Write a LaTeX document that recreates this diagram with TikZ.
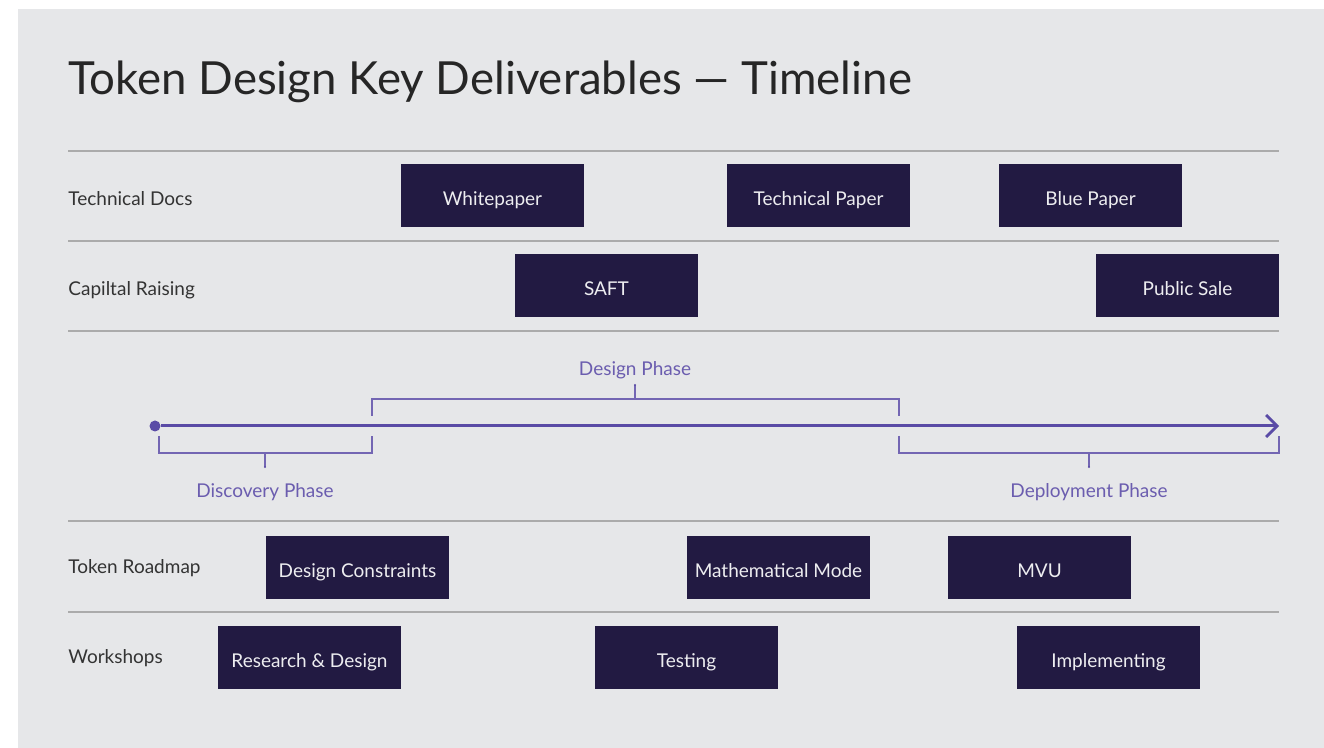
\documentclass[tikz,border=0pt]{standalone}
\usepackage{fontspec}
\setmainfont{Lato}
\usetikzlibrary{arrows.meta, positioning}
\definecolor{paper}{HTML}{E6E7E9}
\definecolor{ink}{HTML}{221A42}
\definecolor{phase}{HTML}{5A4BA6}
\definecolor{rule}{HTML}{ABABAB}
\tikzstyle{deliverable} = [fill=ink, text=white!92!ink, minimum width=91.5pt, minimum height=31.5pt, inner sep=0pt, text height=10pt, text depth=0pt, font=\fontsize{9.5}{11}\selectfont]
\tikzstyle{lane} = [anchor=west, inner sep=0pt, text height=6.8pt, text depth=0pt, text=black!80, font=\fontsize{9.5}{11}\selectfont]
\tikzstyle{divider} = [draw=rule, line width=0.7pt]
\tikzstyle{axis} = [-{Straight Barb[length=5.5pt, width=11pt, line width=1.4pt]}, draw=phase, line width=1.5pt]
\tikzstyle{bracket} = [draw=phase!85, line width=0.6pt]
\tikzstyle{phase label} = [inner sep=0pt, text height=6.8pt, text depth=0pt, text=phase!90, font=\fontsize{9.5}{11}\selectfont]

\begin{document}
\begin{tikzpicture}[x=0.5pt, y=-0.5pt]
    \useasboundingbox (0,0) rectangle (1324,748);
    \fill [white] (0,0) rectangle (1324,748);
    \fill [paper] (18,9) rectangle (1324,748);

    \node (title) [anchor=base west, inner sep=0pt, text=black!85, font=\fontsize{22.8}{27}\selectfont] at (68,95) {Token Design Key Deliverables --- Timeline};

    % Lanes.
    \foreach \y in {151, 241, 331, 521, 612}
        \draw [divider] (68,\y) -- (1279,\y);
    \node (docs) [lane] at (68,199) {Technical Docs};
    \node (capital) [lane] at (68,289) {Capiltal Raising};
    \node (roadmap) [lane] at (68,567) {Token Roadmap};
    \node (workshops) [lane] at (68,657) {Workshops};

    % Deliverables.
    \node (whitepaper) [deliverable] at (492.5,195.5) {Whitepaper};
    \node (technical) [deliverable] at (818.5,195.5) {Technical Paper};
    \node (blue) [deliverable] at (1090.5,195.5) {Blue Paper};
    \node (saft) [deliverable] at (606.5,285.5) {SAFT};
    \node (sale) [deliverable] at (1187.5,285.5) {Public Sale};
    \node (constraints) [deliverable] at (357.5,567.5) {Design Constraints};
    \node (model) [deliverable] at (778.5,567.5) {Mathematical Mode};
    \node (mvu) [deliverable] at (1039.5,567.5) {MVU};
    \node (research) [deliverable] at (309.5,657.5) {Research \& Design};
    \node (testing) [deliverable] at (686.5,657.5) {Testing};
    \node (implementing) [deliverable] at (1108.5,657.5) {Implementing};

    % Timeline.
    \node (start) [circle, fill=phase, inner sep=0pt, minimum size=5.5pt] at (155,426) {};
    \coordinate (end) at (1279,426);
    \draw [axis] (start) -- (end);

    % Phases.
    \node (discovery) [phase label] at (265,491) {Discovery Phase};
    \node (design) [phase label] at (635,369) {Design Phase};
    \node (deployment) [phase label] at (1089,491) {Deployment Phase};
    \coordinate (discovery tick) at (265,467);
    \coordinate (design tick) at (635,385);
    \coordinate (deployment tick) at (1089,467);
    \draw [bracket] (159,436) -- (159,453) -- (372,453) -- (372,436);
    \draw [bracket] (372,416) -- (372,399) -- (899,399) -- (899,416);
    \draw [bracket] (899,436) -- (899,453) -- (1279,453) -- (1279,436);
    \draw [bracket] (discovery tick |- 0,453) -- (discovery tick);
    \draw [bracket] (design tick |- 0,399) -- (design tick);
    \draw [bracket] (deployment tick |- 0,453) -- (deployment tick);
    \foreach \t in {discovery tick, design tick, deployment tick}
        \fill [phase] (\t) circle (0.6pt);
\end{tikzpicture}
\end{document}
